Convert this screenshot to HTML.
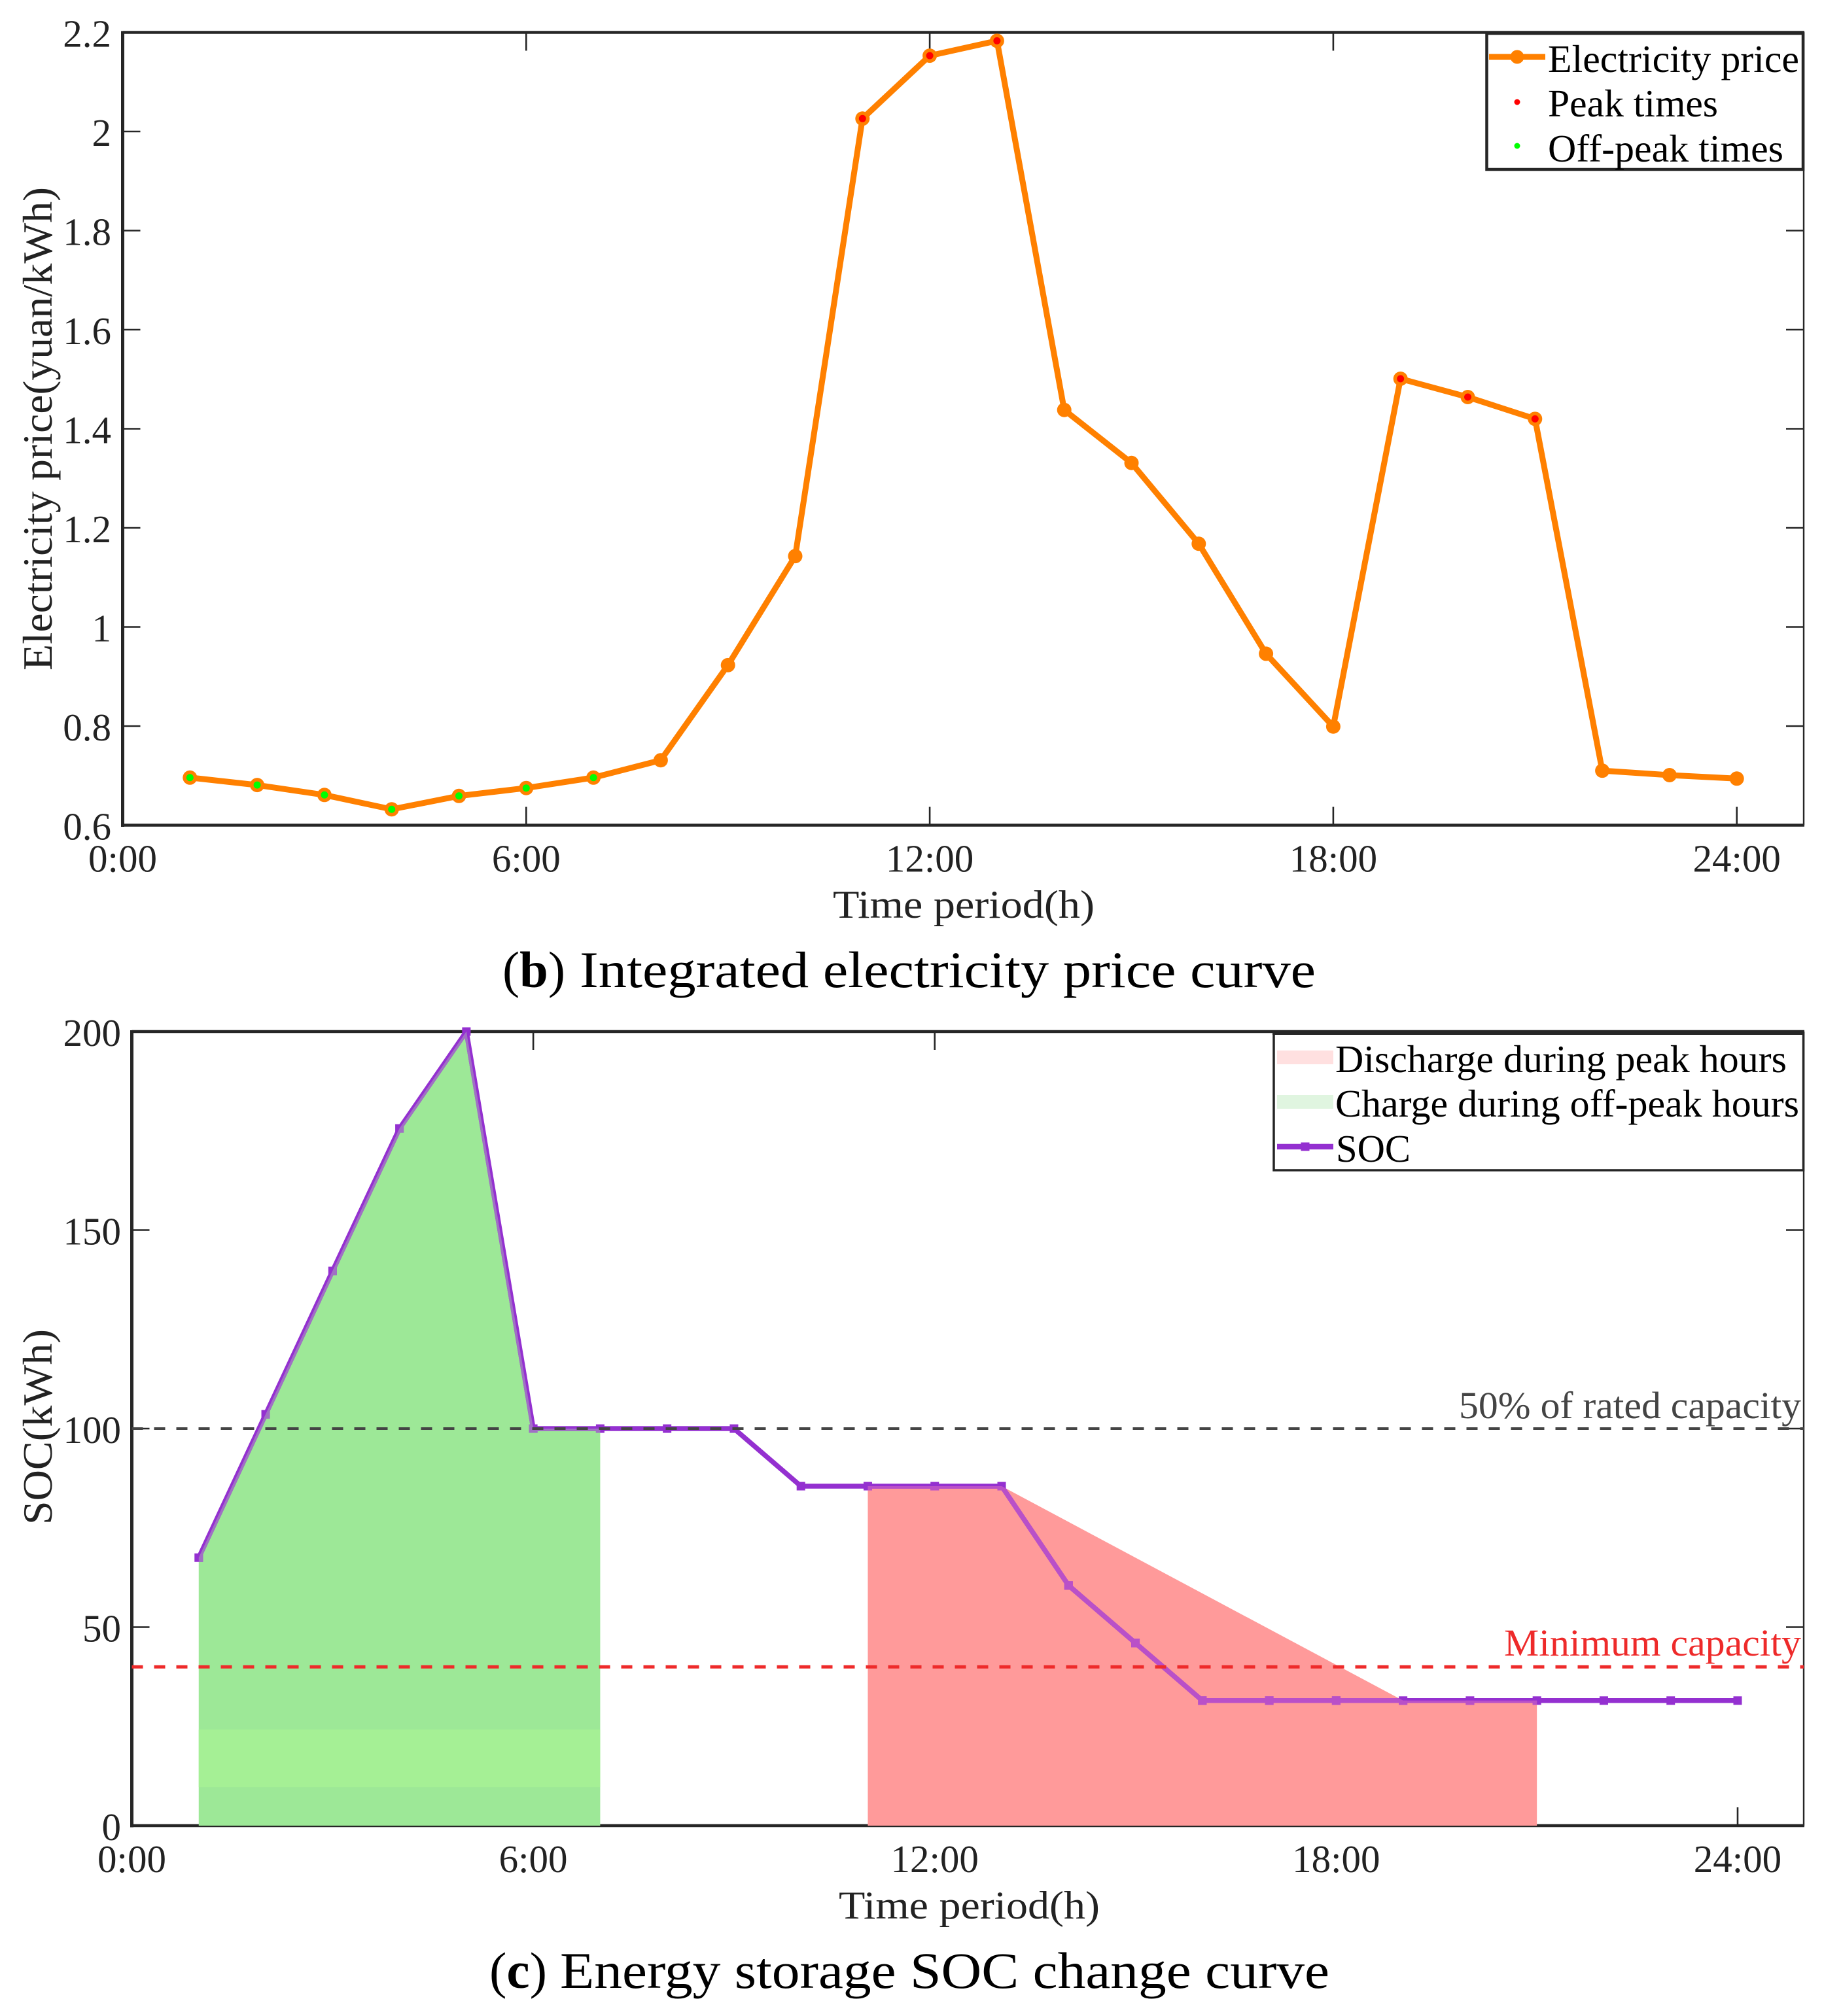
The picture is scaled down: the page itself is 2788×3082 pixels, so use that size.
<!DOCTYPE html>
<html lang="en">
<head>
<meta charset="utf-8">
<title>Electricity price and SOC curves</title>
<style>
html,body{margin:0;padding:0;background:#fff;}
svg{display:block;font-family:"Liberation Serif","Times New Roman",serif;}
</style>
</head>
<body>
<svg id="figure" xmlns="http://www.w3.org/2000/svg" width="2788" height="3082" viewBox="0 0 2788 3082">
  <rect x="0" y="0" width="2788" height="3082" fill="#ffffff"/>
  <g id="price-chart"></g>
  <g id="soc-chart"></g>

  <text transform="translate(79,1025) rotate(-90)" font-size="64" fill="#222" textLength="739" lengthAdjust="spacingAndGlyphs">Electricity price(yuan/kWh)</text>
  <text x="1273" y="1403" font-size="60" fill="#222" textLength="400" lengthAdjust="spacingAndGlyphs">Time period(h)</text>
  <text x="768" y="1509" font-size="78" fill="#000" textLength="96" lengthAdjust="spacingAndGlyphs">(<tspan font-weight="bold">b</tspan>)</text>
  <text x="886" y="1509" font-size="78" fill="#000" textLength="1125" lengthAdjust="spacingAndGlyphs">Integrated electricity price curve</text>

  <text transform="translate(79,2331) rotate(-90)" font-size="64" fill="#222" textLength="299" lengthAdjust="spacingAndGlyphs">SOC(kWh)</text>
  <text x="1282" y="2933" font-size="60" fill="#222" textLength="399" lengthAdjust="spacingAndGlyphs">Time period(h)</text>
  <text x="748" y="3039" font-size="78" fill="#000" textLength="88" lengthAdjust="spacingAndGlyphs">(<tspan font-weight="bold">c</tspan>)</text>
  <text x="856" y="3039" font-size="78" fill="#000" textLength="1176" lengthAdjust="spacingAndGlyphs">Energy storage SOC change curve</text>

  <text x="2230" y="2168" font-size="58" fill="#444" textLength="523" lengthAdjust="spacingAndGlyphs">50% of rated capacity</text>
  <text x="2299" y="2531" font-size="58" fill="#ee2a2a" textLength="454" lengthAdjust="spacingAndGlyphs">Minimum capacity</text>

  <g>
    <rect x="2272.5" y="51" width="483.5" height="208" fill="#fff" stroke="#262626" stroke-width="4.5"/>
    <line x1="2276" y1="87" x2="2362" y2="87" stroke="#ff8000" stroke-width="9"/>
    <circle cx="2319" cy="87" r="10.5" fill="#ff8000"/>
    <text x="2366" y="110" font-size="59.5" fill="#000" textLength="384" lengthAdjust="spacingAndGlyphs">Electricity price</text>
    <circle cx="2319" cy="156" r="4.5" fill="#ff0000"/>
    <text x="2366" y="178" font-size="59.5" fill="#000" textLength="260" lengthAdjust="spacingAndGlyphs">Peak times</text>
    <circle cx="2319" cy="223" r="4.5" fill="#00ff00"/>
    <text x="2366" y="247" font-size="59.5" fill="#000" textLength="360" lengthAdjust="spacingAndGlyphs">Off-peak times</text>
  </g>

  <g>
    <rect x="1947" y="1579" width="809.5" height="210" fill="#fff" stroke="#262626" stroke-width="3.5"/>
    <rect x="1945" y="1575" width="812" height="7" fill="#262626"/>
    <rect x="1952" y="1606" width="86" height="21" fill="#ffe0e0"/>
    <text x="2041" y="1639" font-size="59.5" fill="#000" textLength="690" lengthAdjust="spacingAndGlyphs">Discharge during peak hours</text>
    <rect x="1952" y="1674" width="86" height="21" fill="#e0f5e0"/>
    <text x="2041" y="1707" font-size="59.5" fill="#000" textLength="709" lengthAdjust="spacingAndGlyphs">Charge during off-peak hours</text>
    <line x1="1952" y1="1753" x2="2038" y2="1753" stroke="#9430d0" stroke-width="8.5"/>
    <rect x="1988.5" y="1746.5" width="13" height="13" fill="#9430d0"/>
    <text x="2042" y="1776" font-size="59.5" fill="#000" textLength="114" lengthAdjust="spacingAndGlyphs">SOC</text>
  </g>
</svg>
<script>
// ---- data: price chart ----
const hours = [1,2,3,4,5,6,7,8,9,10,11,12,13,14,15,16,17,18,19,20,21,22,23,24];
const priceValues = [0.696,0.681,0.661,0.632,0.659,0.675,0.696,0.731,0.923,1.143,2.026,2.153,2.183,1.438,1.331,1.168,0.946,0.799,1.501,1.464,1.42,0.71,0.701,0.694];
const peakHours = [11,12,13,19,20,21];
const offPeakHours = [1,2,3,4,5,6,7];
const priceYTicks = [0.6,0.8,1,1.2,1.4,1.6,1.8,2,2.2];
const priceYTickLabels = ['0.6','0.8','1','1.2','1.4','1.6','1.8','2','2.2'];
const xTicks = [0,6,12,18,24];
const xTickLabels = ['0:00','6:00','12:00','18:00','24:00'];
// ---- data: SOC chart ----
const socValues = [67.5,103.6,139.7,175.6,200,100,100,100,100,85.5,85.5,85.5,85.5,60.5,46,31.5,31.5,31.5,31.5,31.5,31.5,31.5,31.5,31.5];
const socYTicks = [0,50,100,150,200];
const socYTickLabels = ['0','50','100','150','200'];
const chargeHours = [1,2,3,4,5,6,7];
const chargeValues = [67.5,103.6,139.7,175.6,200,100,100];
const chargeBand = [9.7,24.2];
const dischargeHours = [11,13,19,21];
const dischargeValues = [85.5,85.5,31.5,31.5];
const ratedCapacity = [100];
const minimumCapacity = [40];

// ---- axis functions ----
const priceX = h => 187.5 + 102.8 * h;
const priceY = v => 1261.5 - (v - 0.6) * 757.5;
const socX = h => 201.5 + 102.27 * h;
const socY = v => 2791 - v * 6.07;
const priceBox = {l:187.5, r:2757, t:49.5, b:1261.5};
const socBox = {l:201.5, r:2757, t:1577, b:2791};

const NS = 'http://www.w3.org/2000/svg';
function mk(parent, tag, attrs, txt){
  const e = document.createElementNS(NS, tag);
  for (const k in attrs) e.setAttribute(k, attrs[k]);
  if (txt !== undefined) e.textContent = txt;
  parent.appendChild(e);
  return e;
}
function pts(xs, ys, fx, fy){
  return xs.map((x, i) => fx(x).toFixed(2) + ',' + fy(ys[i]).toFixed(2)).join(' ');
}

function drawFrame(g, box, prefix, fx, fy, yTicks, yLabels, yLabelRight){
  const frame = mk(g, 'g', {stroke:'#262626', fill:'none'});
  
  
  xTicks.forEach((t, i) => {
    const x = fx(t);
    const bt = mk(frame, 'line', {x1:x, x2:x, y1:box.b, y2:box.b - 28, 'stroke-width':2.6});
    
    
    const tt = mk(frame, 'line', {x1:x, x2:x, y1:box.t, y2:box.t + 28, 'stroke-width':2.6});
    
    
    const lab = mk(g, 'text', {x:x, y:box.b + 71, 'text-anchor':'middle', 'font-size':59, fill:'#222'}, xLabelsFor(i));
    
    
  });
  yTicks.forEach((t, i) => {
    const y = fy(t);
    const lt = mk(frame, 'line', {x1:box.l, x2:box.l + 27, y1:y, y2:y, 'stroke-width':2.6});
    
    
    const rt = mk(frame, 'line', {x1:box.r, x2:box.r - 27, y1:y, y2:y, 'stroke-width':2.6});
    
    
    const lab = mk(g, 'text', {x:yLabelRight, y:y + 22, 'text-anchor':'end', 'font-size':59, fill:'#222'}, yLabels[i]);
    
    
  });
  const left = mk(frame, 'line', {x1:box.l, x2:box.l, y1:box.t - 2, y2:box.b + 2.5, 'stroke-width':5});
  
  
  const bottom = mk(frame, 'line', {x1:box.l, x2:box.r + 1, y1:box.b, y2:box.b, 'stroke-width':4.5});
  
  
  const top = mk(frame, 'line', {x1:box.l, x2:box.r + 1, y1:box.t, y2:box.t, 'stroke-width':4.5});
  
  
  const right = mk(frame, 'line', {x1:box.r, x2:box.r, y1:box.t, y2:box.b, 'stroke-width':2.4});
  
  
}
function xLabelsFor(i){ return xTickLabels[i]; }

// ---- price chart ----
const pg = document.getElementById('price-chart');
drawFrame(pg, priceBox, 'price', priceX, priceY, priceYTicks, priceYTickLabels, 170);

const priceLine = mk(pg, 'polyline', {points:pts(hours, priceValues, priceX, priceY), fill:'none', stroke:'#ff8000', 'stroke-width':9, 'stroke-linejoin':'round'});


hours.forEach((h, i) => {
  const c = mk(pg, 'circle', {cx:priceX(h), cy:priceY(priceValues[i]), r:11, fill:'#ff8000'});
  
  
});
peakHours.forEach(h => {
  const c = mk(pg, 'circle', {cx:priceX(h), cy:priceY(priceValues[hours.indexOf(h)]), r:5.5, fill:'#ff0000'});
  
  
});
offPeakHours.forEach(h => {
  const c = mk(pg, 'circle', {cx:priceX(h), cy:priceY(priceValues[hours.indexOf(h)]), r:5.5, fill:'#00ff00'});
  
  
});

// ---- SOC chart ----
const sg = document.getElementById('soc-chart');
const chargePts = socX(chargeHours[0]).toFixed(2) + ',' + socY(0) + ' ' + pts(chargeHours, chargeValues, socX, socY) + ' ' + socX(chargeHours[chargeHours.length - 1]).toFixed(2) + ',' + socY(0);
const dischargePts = socX(dischargeHours[0]).toFixed(2) + ',' + socY(0) + ' ' + pts(dischargeHours, dischargeValues, socX, socY) + ' ' + socX(dischargeHours[dischargeHours.length - 1]).toFixed(2) + ',' + socY(0);

drawFrame(sg, socBox, 'soc', socX, socY, socYTicks, socYTickLabels, 185);

const chargeArea = mk(sg, 'polygon', {points:chargePts, fill:'#9de897'});


const band = mk(sg, 'rect', {x:socX(chargeHours[0]), y:socY(chargeBand[1]), width:socX(chargeHours[chargeHours.length - 1]) - socX(chargeHours[0]), height:socY(chargeBand[0]) - socY(chargeBand[1]), fill:'#a5f095'});


const dischargeArea = mk(sg, 'polygon', {points:dischargePts, fill:'#ff9a9a'});



const defs = mk(sg, 'defs', {});
const clipG = mk(defs, 'clipPath', {id:'clip-charge'});
mk(clipG, 'polygon', {points:chargePts});
const clipR = mk(defs, 'clipPath', {id:'clip-discharge'});
mk(clipR, 'polygon', {points:dischargePts});

function drawSoc(parent, color, role){
  const l = mk(parent, 'polyline', {points:pts(hours, socValues, socX, socY), fill:'none', stroke:color, 'stroke-width':7.5, 'stroke-linejoin':'round'});
  
  
  hours.forEach((h, i) => {
    const m = mk(parent, 'rect', {x:socX(h) - 6.5, y:socY(socValues[i]) - 6.5, width:13, height:13, fill:color});
    
    
  });
}
const socMain = mk(sg, 'g', {});


drawSoc(socMain, '#9430d0', 'soc');
const socOverG = mk(sg, 'g', {'clip-path':'url(#clip-charge)'});


drawSoc(socOverG, '#a070c4', 'soc-over-charge');
const socOverR = mk(sg, 'g', {'clip-path':'url(#clip-discharge)'});


drawSoc(socOverR, '#b950c8', 'soc-over-discharge');

const ratedLine = mk(sg, 'line', {x1:socBox.l, x2:socBox.r, y1:socY(ratedCapacity[0]), y2:socY(ratedCapacity[0]), stroke:'#444', 'stroke-width':4, 'stroke-dasharray':'17 17'});


const minLine = mk(sg, 'line', {x1:socBox.l, x2:socBox.r, y1:socY(minimumCapacity[0]), y2:socY(minimumCapacity[0]), stroke:'#ee2a2a', 'stroke-width':5, 'stroke-dasharray':'17 17'});


</script>
</body>
</html>
